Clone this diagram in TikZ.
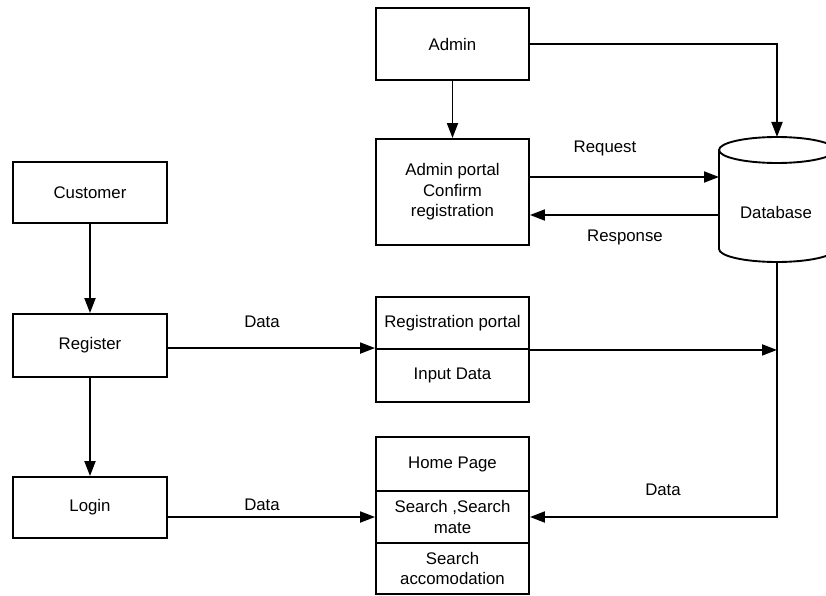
\documentclass[tikz,border=0pt]{standalone}
\usepackage{fontspec}
\setmainfont{Liberation Sans}
\usetikzlibrary{arrows.meta}
\tikzset{
	box/.style={draw, line width=1.9pt, minimum width=153pt, inner sep=2pt, align=center, font=\fontsize{16.8}{20.5}\selectfont},
	arr/.style={line width=1.9pt, -{Triangle[length=15pt,width=11pt]}},
	lbl/.style={font=\fontsize{16.8}{20}\selectfont}
}
\begin{document}
\begin{tikzpicture}[x=1pt,y=-1pt]
	\useasboundingbox (0,0) rectangle (826,596);
	\node[box, minimum height=72pt] (admin) at (452.5,44) {Admin};
	\node[box, minimum height=106pt] (adminportal) at (452.5,192) {Admin portal\\Confirm\\registration};
	\node[box, minimum width=154pt, minimum height=61pt] (customer) at (90,192.5) {Customer};
	\node[box, minimum width=154pt, minimum height=63pt] (register) at (90,345.5) {Register};
	\node[box, minimum width=154pt, minimum height=61pt] (login) at (90,507.5) {Login};
	\node[box, minimum height=52pt] (regtop) at (452.5,323) {Registration portal};
	\node[box, minimum height=53pt] (regbot) at (452.5,375.5) {Input Data};
	\node[box, minimum height=54pt] (home) at (452.5,464) {Home Page};
	\node[box, minimum height=52pt] (search) at (452.5,517) {Search ,Search\\mate};
	\node[box, minimum height=51pt] (accom) at (452.5,568.5) {Search\\accomodation};
	\draw[line width=1.9pt] (777,150) ellipse (58 and 13);
	\draw[line width=1.9pt] (719,150) -- (719,249) arc (180:0:58 and 13) -- (835,150);
	\coordinate (dbtop) at (777,137);
	\coordinate (dbbot) at (777,262);
	\coordinate (dbleft) at (719,200);
	\node[lbl] (db) at (776,212) {Database};
	\node[lbl] (req) at (605,148) {Request};
	\node[lbl] (res) at (625,237) {Response};
	\node[lbl] (data1) at (262,322) {Data};
	\node[lbl] (data2) at (262,505) {Data};
	\node[lbl] (data3) at (663,490) {Data};
	\coordinate (req1) at ([yshift=15pt]adminportal.east);
	\coordinate (res1) at ([yshift=-23pt]adminportal.east);
	\draw[arr] (customer) -- (register);
	\draw[arr] (register) -- (login);
	\draw[arr] (admin) -- (adminportal);
	\draw[arr] (admin.east) -| (dbtop);
	\draw[arr] (req1) -- (req1 -| dbleft);
	\draw[arr] (res1 -| dbleft) -- (res1);
	\draw[arr] (register.east |- regbot.north) -- (regbot.north west);
	\draw[arr] (regtop.south east) -- (regtop.south east -| dbbot);
	\draw[arr] (dbbot) |- (search.east);
	\draw[arr] (login.east |- search.west) -- (search.west);
\end{tikzpicture}
\end{document}
